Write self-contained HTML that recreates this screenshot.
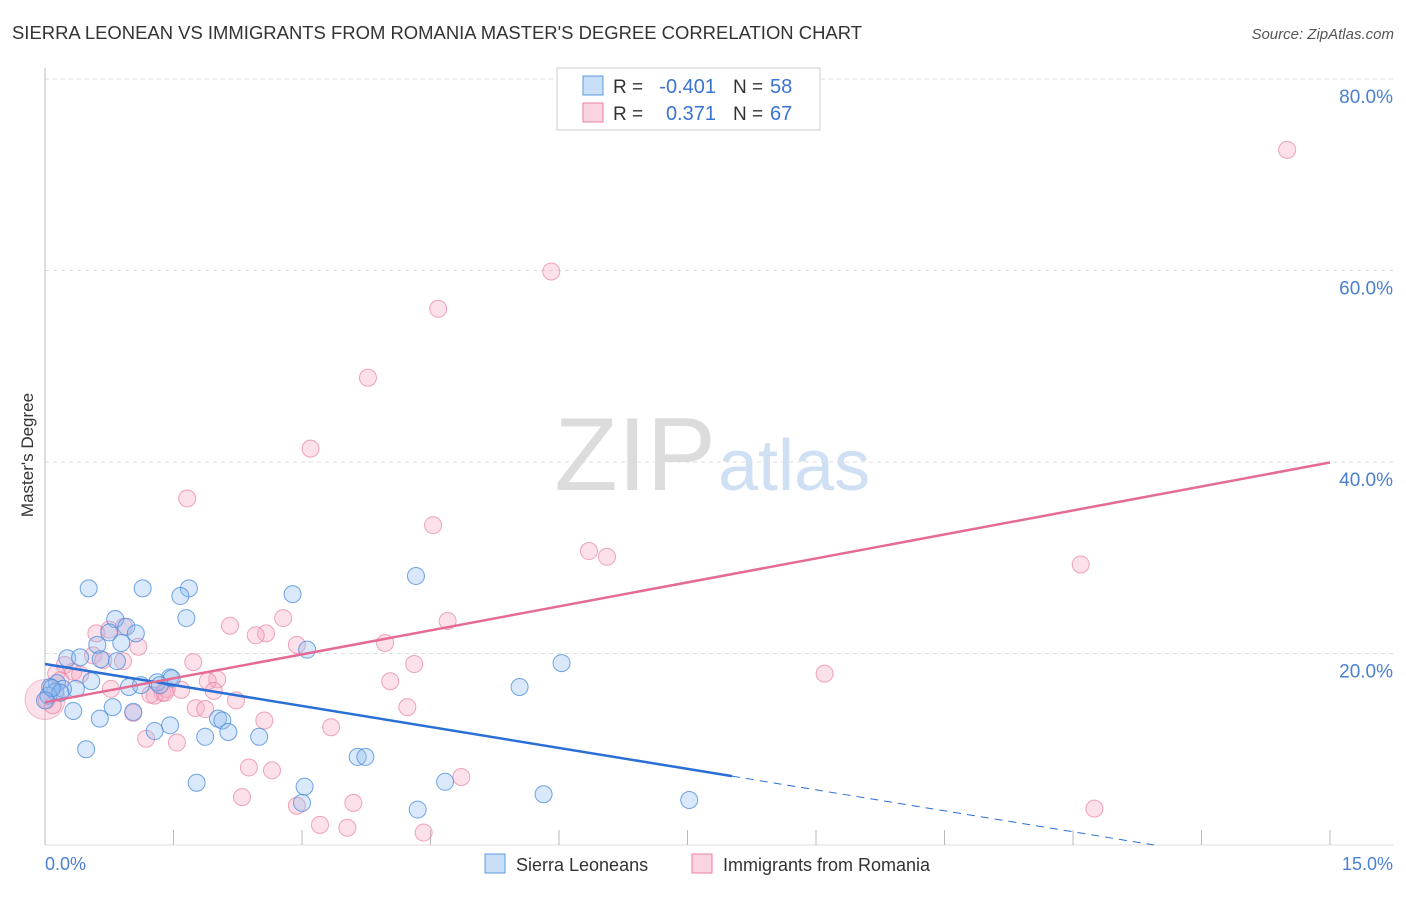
<!DOCTYPE html>
<html><head><meta charset="utf-8"><style>
body{margin:0;background:#fff;font-family:"Liberation Sans",sans-serif}
svg text{font-family:"Liberation Sans",sans-serif}
</style></head><body>
<svg id="chart" width="1406" height="892" xmlns="http://www.w3.org/2000/svg">
<text x="12" y="39" font-size="18" fill="#333" textLength="850" lengthAdjust="spacingAndGlyphs">SIERRA LEONEAN VS IMMIGRANTS FROM ROMANIA MASTER'S DEGREE CORRELATION CHART</text>
<text x="1394" y="39" font-size="15" fill="#555" font-style="italic" text-anchor="end">Source: ZipAtlas.com</text>
<text x="716" y="490" font-size="104" text-anchor="end" fill="#dcdcdc" font-family="Liberation Serif, serif">ZIP</text>
<text x="718" y="490" font-size="72" fill="#cfe0f5">atlas</text>
<text transform="translate(33,455) rotate(-90)" font-size="17" fill="#333" text-anchor="middle">Master's Degree</text>
<g id="grid"></g><g id="marks"></g>
<g>
<rect x="557" y="68" width="263" height="62" fill="#fff" stroke="#ccc"/>
<rect x="583" y="76" width="20" height="19" fill="rgba(147,190,240,.5)" stroke="#5b9be0"/>
<rect x="583" y="103" width="20" height="19" fill="rgba(245,170,195,.5)" stroke="#e8809f"/>
<text x="613" y="93" font-size="19" fill="#333">R =</text>
<text x="716" y="93" font-size="20" fill="#3a74d0" text-anchor="end">-0.401</text>
<text x="733" y="93" font-size="19" fill="#333">N =</text>
<text x="770" y="93" font-size="20" fill="#3a74d0">58</text>
<text x="613" y="120" font-size="19" fill="#333">R =</text>
<text x="716" y="120" font-size="20" fill="#3a74d0" text-anchor="end">0.371</text>
<text x="733" y="120" font-size="19" fill="#333">N =</text>
<text x="770" y="120" font-size="20" fill="#3a74d0">67</text>
</g>
<g>
<rect x="485" y="854" width="20" height="19" fill="rgba(147,190,240,.5)" stroke="#5b9be0"/>
<text x="516" y="871" font-size="18" fill="#333">Sierra Leoneans</text>
<rect x="692" y="854" width="20" height="19" fill="rgba(245,170,195,.5)" stroke="#e8809f"/>
<text x="723" y="871" font-size="18" fill="#333">Immigrants from Romania</text>
</g>
</svg>
<script>
const yTicks=[20,40,60,80];
const yTickLabels=["20.0%","40.0%","60.0%","80.0%"];
const xTickCount=10;
const blueTrend=[18.9,-1.46];
const pinkTrend=[14.9,1.67];
const blue=[[0.51,26.8],[1.14,26.8],[1.68,26.8],[1.58,26.0],[2.89,26.2],[4.33,28.1],[0.82,23.6],[1.65,23.7],[0.95,22.8],[1.06,22.1],[0.75,22.2],[0.89,21.1],[0.61,20.9],[0.26,19.5],[0.41,19.6],[0.65,19.4],[0.84,19.2],[3.06,20.4],[6.03,19.0],[5.54,16.5],[1.46,17.5],[1.31,17.0],[0.98,16.5],[1.12,16.7],[1.48,17.4],[0.36,16.3],[0.54,17.1],[0.14,16.9],[0.06,16.5],[0.12,16.0],[0.21,16.3],[0.04,15.6],[0.33,14.0],[0.64,13.2],[0.79,14.4],[1.03,13.9],[1.28,11.9],[1.46,12.5],[2.02,13.2],[2.07,13.0],[1.87,11.3],[2.14,11.8],[2.50,11.3],[0.48,10.0],[3.65,9.2],[3.74,9.2],[1.77,6.5],[3.03,6.1],[4.67,6.6],[3.00,4.4],[4.35,3.7],[5.82,5.3],[7.52,4.7],[0.18,15.9],[0.08,16.4],[1.34,16.7],[0,15.1]];
const pink=[[14.50,72.6],[5.91,59.9],[4.59,56.0],[3.77,48.8],[3.10,41.4],[1.66,36.2],[4.53,33.4],[6.35,30.7],[6.56,30.1],[12.09,29.3],[2.78,23.7],[4.70,23.4],[2.16,22.9],[2.58,22.1],[2.46,21.9],[0.92,22.8],[0.60,22.1],[0.75,22.5],[1.09,20.7],[2.94,20.9],[3.97,21.1],[0.56,19.8],[0.68,19.3],[0.91,19.2],[0.23,18.8],[0.33,18.1],[1.73,19.1],[4.31,18.9],[9.10,17.9],[4.03,17.1],[2.01,17.3],[1.90,17.1],[1.97,16.1],[1.59,16.2],[1.37,15.9],[1.28,15.6],[1.42,16.3],[1.23,15.7],[0.77,16.3],[0.41,17.8],[0.13,17.9],[0.02,15.1],[1.76,14.3],[1.87,14.2],[2.23,15.1],[1.03,13.8],[4.23,14.4],[2.56,13.0],[3.34,12.3],[1.18,11.1],[1.54,10.7],[2.38,8.1],[2.65,7.8],[4.86,7.1],[2.30,5.0],[2.94,4.1],[3.60,4.4],[3.21,2.1],[3.53,1.8],[4.42,1.3],[12.25,3.8],[0.18,17.2],[1.40,15.9],[0.09,14.6]];
const NS="http://www.w3.org/2000/svg";
const X=v=>45+v/15*1285, Y=v=>845-v/80*766;
function mk(t,a,p){const e=document.createElementNS(NS,t);for(const k in a)e.setAttribute(k,a[k]);p.appendChild(e);return e;}
const g=document.getElementById('grid'), m=document.getElementById('marks');
yTicks.forEach((t,i)=>{
 const l=mk('line',{x1:45,x2:1393,y1:Y(t),y2:Y(t),stroke:'#ddd','stroke-dasharray':'4,4'},g);
 
 
 const tx=mk('text',{x:1393,y:Y(t)+24,'font-size':19,fill:'#4a7fd4','text-anchor':'end'},g);tx.textContent=yTickLabels[i];
 
 
});
mk('line',{x1:45,x2:45,y1:68,y2:845,stroke:'#bbb'},g);
mk('line',{x1:45,x2:1393,y1:845,y2:845,stroke:'#ddd'},g);
for(let i=1;i<=xTickCount;i++){const x=X(i*1.5);mk('line',{x1:x,x2:x,y1:830,y2:845,stroke:'#bbb'},g);}
const x0=mk('text',{x:45,y:870,'font-size':18,fill:'#4a7fd4'},g);x0.textContent='0.0%';


const x1=mk('text',{x:1393,y:870,'font-size':18,fill:'#4a7fd4','text-anchor':'end'},g);x1.textContent='15.0%';


const big=mk('circle',{cx:X(0),cy:Y(15.2),r:20,fill:'rgba(245,170,195,.35)',stroke:'#e8809f','stroke-opacity':.5},m);


pink.forEach(d=>{const c=mk('circle',{cx:X(d[0]),cy:Y(d[1]),r:8.5,fill:'rgba(245,170,195,.35)',stroke:'#e8809f','stroke-opacity':.7},m);
 
 });
blue.forEach(d=>{const c=mk('circle',{cx:X(d[0]),cy:Y(d[1]),r:8.5,fill:'rgba(147,190,240,.35)',stroke:'#4f8fdc','stroke-opacity':.8},m);
 
 });
const bEnd=8.02, bZero=-blueTrend[0]/blueTrend[1];
const bl=mk('line',{x1:X(0),y1:Y(blueTrend[0]),x2:X(bEnd),y2:Y(blueTrend[0]+blueTrend[1]*bEnd),stroke:'#2a6fd6','stroke-width':2.5},m);


const bd=mk('line',{x1:X(bEnd),y1:Y(blueTrend[0]+blueTrend[1]*bEnd),x2:X(bZero),y2:Y(0),stroke:'#2a6fd6','stroke-width':1,'stroke-dasharray':'8,6'},m);


const pl=mk('line',{x1:X(0),y1:Y(pinkTrend[0]),x2:X(15),y2:Y(pinkTrend[0]+pinkTrend[1]*15),stroke:'#e56b95','stroke-width':2.5},m);


</script>
</body></html>
